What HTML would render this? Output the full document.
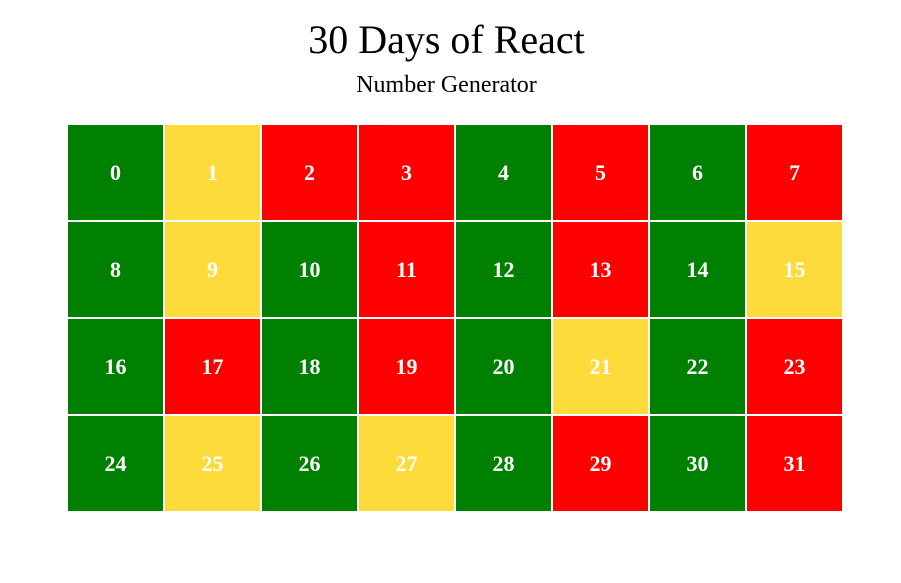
<!DOCTYPE html>
<html>
<head>
<meta charset="utf-8">
<style>
  body{margin:0;background:#fff;width:901px;height:583px;overflow:hidden;font-family:"Liberation Serif",serif;}
  #title{position:absolute;left:0;width:893px;top:16px;text-align:center;font-size:40px;line-height:48px;margin:0;font-weight:normal;}
  #subtitle{position:absolute;left:0;width:893px;top:70px;text-align:center;font-size:24px;line-height:30px;margin:0;font-weight:normal;}
  #grid{position:absolute;left:0;top:0;}
  .cell{position:absolute;width:95px;height:95px;display:flex;align-items:center;justify-content:center;color:#fff;font-weight:bold;font-size:22px;}
</style>
</head>
<body>
<h1 id="title">30 Days of React</h1>
<h2 id="subtitle">Number Generator</h2>
<div id="grid"></div>
<script>
const numbers = [];
for (let i = 0; i <= 31; i++) numbers.push(i);
const colorPrime = '#ff0000', colorEven = '#008000', colorOdd = '#fddb3a';
function isPrime(n){ if(n<2) return false; for(let d=2; d*d<=n; d++) if(n%d===0) return false; return true; }
const grid = document.getElementById('grid');
numbers.forEach((n, i) => {
  const col = i % 8, row = Math.floor(i / 8);
  const el = document.createElement('div');
  el.className = 'cell';
  
  
  el.style.left = (68 + col * 97) + 'px';
  el.style.top = (125 + row * 97) + 'px';
  el.style.background = isPrime(n) ? colorPrime : (n % 2 === 0 ? colorEven : colorOdd);
  el.textContent = n;
  grid.appendChild(el);
});
</script>
</body>
</html>
